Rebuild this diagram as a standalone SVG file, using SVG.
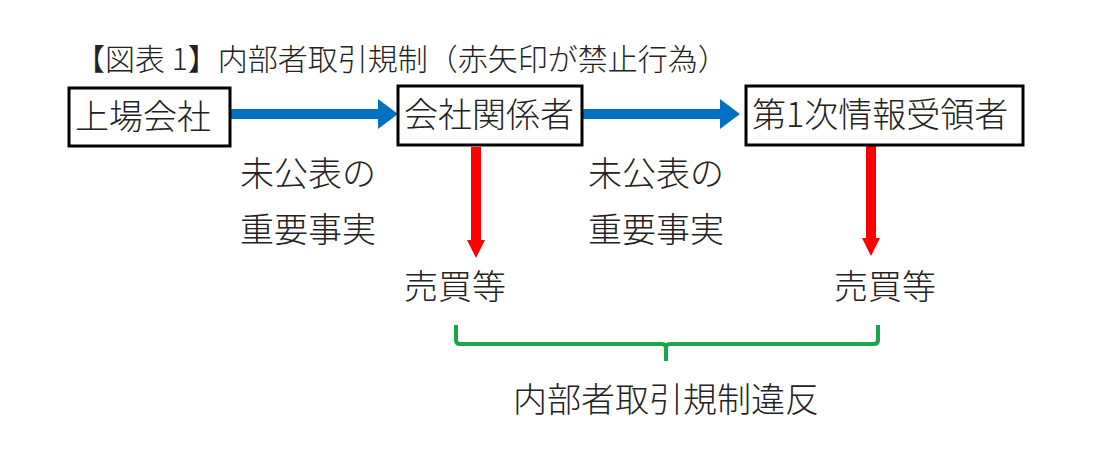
<svg xmlns="http://www.w3.org/2000/svg" width="1101" height="458" viewBox="0 0 1101 458">
<style>
text{font-family:"Noto Sans CJK JP","Noto Sans",sans-serif;fill:#222;font-weight:300;}
.t{font-size:34px;}
.box{fill:#fff;stroke:#000;stroke-width:3;}
.blue{stroke:#0070c0;stroke-width:10;fill:none;}
.red{stroke:#ff0000;stroke-width:10;fill:none;}
</style>
<defs>
<marker id="ab" markerWidth="2" markerHeight="3" refX="0.2" refY="1.5" orient="auto" markerUnits="strokeWidth"><path d="M0,0 L2,1.5 L0,3 Z" fill="#0070c0"/></marker>
<marker id="ar" markerWidth="2" markerHeight="1.8" refX="0.2" refY="0.9" orient="auto" markerUnits="strokeWidth"><path d="M0,0 L1.8,0.9 L0,1.8 Z" fill="#ff0000"/></marker>
</defs>
<rect width="1101" height="458" fill="#fff"/>
<text x="75" y="70" style="font-size:30px">【図表 1】内部者取引規制（赤矢印が禁止行為）</text>
<g id="connectors">
<line class="blue" x1="231" y1="114" x2="380" y2="114" marker-end="url(#ab)"/>
<line class="blue" x1="578" y1="114" x2="722" y2="114" marker-end="url(#ab)"/>
<line class="red" x1="476" y1="147" x2="476" y2="242" marker-end="url(#ar)"/>
<line class="red" x1="871" y1="141" x2="871" y2="240" marker-end="url(#ar)"/>
<path d="M456,325 V340 Q456,344 460,344 H662 Q666,344 666,348 V361 M666,348 Q666,344 670,344 H874 Q878,344 878,340 V325" fill="none" stroke="#1aa64a" stroke-width="4"/>
</g>
<g id="n1"><rect class="box" x="69" y="88" width="161" height="58"/><text class="t" x="75" y="129">上場会社</text></g>
<g id="n2"><rect class="box" x="398" y="86" width="184" height="59"/><text class="t" x="404" y="127">会社関係者</text></g>
<g id="n3"><rect class="box" x="746" y="86" width="277" height="59"/><text class="t" x="752" y="127">第1次情報受領者</text></g>
<g id="l1"><text class="t" x="240" y="186">未公表の</text><text class="t" x="240" y="242">重要事実</text></g>
<g id="l2"><text class="t" x="588" y="186">未公表の</text><text class="t" x="588" y="242">重要事実</text></g>
<g id="s1"><text class="t" x="404" y="299">売買等</text></g>
<g id="s2"><text class="t" x="834" y="299">売買等</text></g>
<g id="v"><text class="t" x="666" y="412" text-anchor="middle">内部者取引規制違反</text></g>
</svg>
